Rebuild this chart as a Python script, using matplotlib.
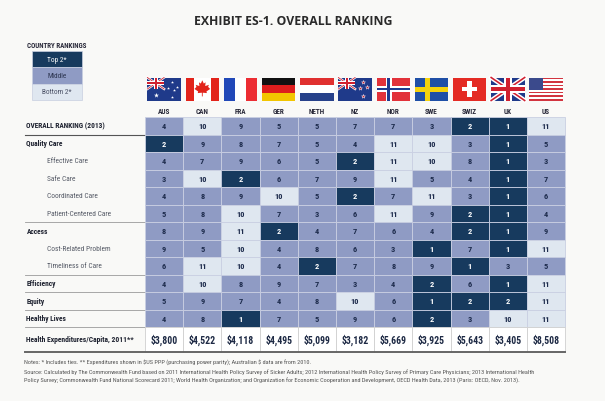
import matplotlib
matplotlib.use("Agg")
import matplotlib.pyplot as plt
from matplotlib.patches import Rectangle, Polygon
from matplotlib.lines import Line2D
import logging
logging.getLogger('matplotlib.font_manager').setLevel(logging.ERROR)

# ---------------- data ----------------
countries = ["AUS", "CAN", "FRA", "GER", "NETH", "NZ", "NOR", "SWE", "SWIZ", "UK", "US"]
row_labels = ["OVERALL RANKING (2013)", "Quality Care", "Effective Care", "Safe Care",
              "Coordinated Care", "Patient-Centered Care", "Access", "Cost-Related Problem",
              "Timeliness of Care", "Efficiency", "Equity", "Healthy Lives"]
row_is_sub = [False, False, True, True, True, True, False, True, True, False, False, False]

overall          = [4, 10, 9, 5, 5, 7, 7, 3, 2, 1, 11]
quality_care     = [2, 9, 8, 7, 5, 4, 11, 10, 3, 1, 5]
effective_care   = [4, 7, 9, 6, 5, 2, 11, 10, 8, 1, 3]
safe_care        = [3, 10, 2, 6, 7, 9, 11, 5, 4, 1, 7]
coordinated_care = [4, 8, 9, 10, 5, 2, 7, 11, 3, 1, 6]
patient_centered = [5, 8, 10, 7, 3, 6, 11, 9, 2, 1, 4]
access           = [8, 9, 11, 2, 4, 7, 6, 4, 2, 1, 9]
cost_related     = [9, 5, 10, 4, 8, 6, 3, 1, 7, 1, 11]
timeliness       = [6, 11, 10, 4, 2, 7, 8, 9, 1, 3, 5]
efficiency       = [4, 10, 8, 9, 7, 3, 4, 2, 6, 1, 11]
equity           = [5, 9, 7, 4, 8, 10, 6, 1, 2, 2, 11]
healthy_lives    = [4, 8, 1, 7, 5, 9, 6, 2, 3, 10, 11]
ranks = [overall, quality_care, effective_care, safe_care, coordinated_care, patient_centered,
         access, cost_related, timeliness, efficiency, equity, healthy_lives]
spending_label = "Health Expenditures/Capita, 2011**"
spending = ["$3,800", "$4,522", "$4,118", "$4,495", "$5,099", "$3,182", "$5,669",
            "$3,925", "$5,643", "$3,405", "$8,508"]
legend_labels = ["Top 2*", "Middle", "Bottom 2*"]
title = "EXHIBIT ES-1. OVERALL RANKING"
notes = [
    "Notes: * Includes ties. ** Expenditures shown in $US PPP (purchasing power parity); Australian $ data are from 2010.",
    "Source: Calculated by The Commonwealth Fund based on 2011 International Health Policy Survey of Sicker Adults; 2012 International Health Policy Survey of Primary Care Physicians; 2013 International Health",
    "Policy Survey; Commonwealth Fund National Scorecard 2011; World Health Organization; and Organization for Economic Cooperation and Development, OECD Health Data, 2013 (Paris: OECD, Nov. 2013).",
]

# ---------------- style ----------------
DARK = "#173a5e"
MID = "#8f9bc4"
LIGHT = "#dfe7f0"
BG = "#f9f9f7"
NARROW = ["Liberation Sans Narrow", "Roboto Condensed", "DejaVu Sans"]

def cell_color(r):
    if r <= 2:
        return DARK
    if r >= 10:
        return LIGHT
    return MID

def esc(s):
    return s.replace("$", r"\$")

fig = plt.figure(figsize=(6.05, 4.02), dpi=100, facecolor=BG)
ax = fig.add_axes([0, 0, 1, 1])
ax.set_xlim(0, 605)
ax.set_ylim(402, 0)
ax.axis("off")
ax.set_facecolor(BG)

X0, CW = 145.0, 38.2
Y0, RH = 118.0, 17.5
LX = 25.0
ncol = len(countries)
XR = X0 + ncol * CW

# title
ax.text(293.5, 21.5, title, ha="center", va="center", fontsize=8.8,
        fontweight="bold", family=["Open Sans", "DejaVu Sans"], color="#2a2a2a")

# legend
ax.text(27, 46, "COUNTRY RANKINGS", fontsize=5.0, fontweight="bold", family=NARROW,
        color="#2a2a3a", va="center", ha="left")
leg_cols = [DARK, MID, LIGHT]
leg_txt = ["white", "#2c3550", "#4a5065"]
for i, (lab, c, tc) in enumerate(zip(legend_labels, leg_cols, leg_txt)):
    y = 52 + i * 16.3
    ax.add_patch(Rectangle((32, y), 50, 16.3, facecolor=c, edgecolor="#c8cfe0", lw=0.5))
    ax.text(57, y + 8.2, lab, ha="center", va="center", fontsize=5.2, family=NARROW, color=tc)

# ---------------- flags ----------------
def clip_rect(x, y, w, h):
    r = Rectangle((x, y), w, h, transform=ax.transData, facecolor="none", edgecolor="none")
    ax.add_patch(r)
    return r

def px2pt(px):
    return px * 0.72

def union_jack(x, y, w, h):
    ax.add_patch(Rectangle((x, y), w, h, facecolor="#1f3a8a", edgecolor="none", zorder=3))
    cp = clip_rect(x, y, w, h)
    for (xa, ya, xb, yb) in [(x, y, x + w, y + h), (x, y + h, x + w, y)]:
        l1 = Line2D([xa, xb], [ya, yb], color="white", lw=px2pt(h * 0.2), zorder=4)
        l1.set_clip_path(cp); ax.add_line(l1)
        l2 = Line2D([xa, xb], [ya, yb], color="#d0202f", lw=px2pt(h * 0.07), zorder=4)
        l2.set_clip_path(cp); ax.add_line(l2)
    ax.add_patch(Rectangle((x + w / 2 - h * 0.17, y), h * 0.34, h, facecolor="white", edgecolor="none", zorder=5))
    ax.add_patch(Rectangle((x, y + h * 0.33), w, h * 0.34, facecolor="white", edgecolor="none", zorder=5))
    ax.add_patch(Rectangle((x + w / 2 - h * 0.1, y), h * 0.2, h, facecolor="#d0202f", edgecolor="none", zorder=6))
    ax.add_patch(Rectangle((x, y + h * 0.4), w, h * 0.2, facecolor="#d0202f", edgecolor="none", zorder=6))

def flag(code, x, y, w, h):
    z = 3
    if code == "AUS" or code == "NZ":
        ax.add_patch(Rectangle((x, y), w, h, facecolor="#1f3a8a", edgecolor="none", zorder=z))
        union_jack(x, y, w / 2, h / 2)
        if code == "AUS":
            ax.scatter([x + w * 0.25], [y + h * 0.76], s=14, marker="*", color="white", zorder=7, lw=0)
            ax.scatter([x + w * 0.75, x + w * 0.62, x + w * 0.88, x + w * 0.75, x + w * 0.8],
                       [y + h * 0.2, y + h * 0.45, y + h * 0.4, y + h * 0.85, y + h * 0.55],
                       s=5, marker="*", color="white", zorder=7, lw=0)
        else:
            ax.scatter([x + w * 0.75, x + w * 0.64, x + w * 0.86, x + w * 0.75],
                       [y + h * 0.2, y + h * 0.45, y + h * 0.4, y + h * 0.8],
                       s=9, marker="*", color="#d0202f", edgecolors="white", lw=0.3, zorder=7)
    elif code == "CAN":
        ax.add_patch(Rectangle((x, y), w, h, facecolor="white", edgecolor="none", zorder=z))
        ax.add_patch(Rectangle((x, y), w / 4, h, facecolor="#e2231a", edgecolor="none", zorder=z))
        ax.add_patch(Rectangle((x + 3 * w / 4, y), w / 4, h, facecolor="#e2231a", edgecolor="none", zorder=z))
        cx, cy, s = x + w / 2, y + h * 0.48, h * 0.36
        leaf = [(0, -1), (0.18, -0.6), (0.4, -0.75), (0.35, -0.3), (0.8, -0.45), (0.7, -0.2),
                (0.95, 0.05), (0.5, 0.35), (0.55, 0.55), (0.05, 0.5), (0.05, 0.95), (-0.05, 0.95),
                (-0.05, 0.5), (-0.55, 0.55), (-0.5, 0.35), (-0.95, 0.05), (-0.7, -0.2), (-0.8, -0.45),
                (-0.35, -0.3), (-0.4, -0.75), (-0.18, -0.6)]
        ax.add_patch(Polygon([(cx + px * s, cy + py * s) for px, py in leaf], closed=True,
                             facecolor="#e2231a", edgecolor="none", zorder=z + 1))
    elif code == "FRA":
        for i, c in enumerate(["#2148b8", "white", "#ec2d33"]):
            ax.add_patch(Rectangle((x + i * w / 3, y), w / 3, h, facecolor=c, edgecolor="none", zorder=z))
    elif code == "GER":
        for i, c in enumerate(["#111111", "#dd1d1d", "#f2c500"]):
            ax.add_patch(Rectangle((x, y + i * h / 3), w, h / 3, facecolor=c, edgecolor="none", zorder=z))
    elif code == "NETH":
        for i, c in enumerate(["#e0302f", "white", "#27418a"]):
            ax.add_patch(Rectangle((x, y + i * h / 3), w, h / 3, facecolor=c, edgecolor="none", zorder=z))
    elif code == "NOR":
        ax.add_patch(Rectangle((x, y), w, h, facecolor="#e2323a", edgecolor="none", zorder=z))
        ax.add_patch(Rectangle((x + w * 6 / 22, y), w * 4 / 22, h, facecolor="white", edgecolor="none", zorder=z))
        ax.add_patch(Rectangle((x, y + h * 6 / 16), w, h * 4 / 16, facecolor="white", edgecolor="none", zorder=z))
        ax.add_patch(Rectangle((x + w * 7 / 22, y), w * 2 / 22, h, facecolor="#1e3a8f", edgecolor="none", zorder=z))
        ax.add_patch(Rectangle((x, y + h * 7 / 16), w, h * 2 / 16, facecolor="#1e3a8f", edgecolor="none", zorder=z))
    elif code == "SWE":
        ax.add_patch(Rectangle((x, y), w, h, facecolor="#1f4fa6", edgecolor="none", zorder=z))
        ax.add_patch(Rectangle((x + w * 5 / 16, y), w * 2.2 / 16, h, facecolor="#f5d20c", edgecolor="none", zorder=z))
        ax.add_patch(Rectangle((x, y + h * 4 / 10), w, h * 2.2 / 10, facecolor="#f5d20c", edgecolor="none", zorder=z))
    elif code == "SWIZ":
        ax.add_patch(Rectangle((x, y), w, h, facecolor="#e42b24", edgecolor="none", zorder=z))
        cx, cy, a, b = x + w / 2, y + h / 2, h * 0.33, h * 0.1
        ax.add_patch(Rectangle((cx - b, cy - a), 2 * b, 2 * a, facecolor="white", edgecolor="none", zorder=z + 1))
        ax.add_patch(Rectangle((cx - a, cy - b), 2 * a, 2 * b, facecolor="white", edgecolor="none", zorder=z + 1))
    elif code == "UK":
        union_jack(x, y, w, h)
    elif code == "US":
        for i in range(13):
            c = "#d2343f" if i % 2 == 0 else "white"
            ax.add_patch(Rectangle((x, y + i * h / 13), w, h / 13, facecolor=c, edgecolor="none", zorder=z))
        ax.add_patch(Rectangle((x, y), w * 0.4, h * 7 / 13, facecolor="#3b4a8c", edgecolor="none", zorder=z + 1))

FW, FH = 33.5, 23.0
for j, code in enumerate(countries):
    cx = X0 + (j + 0.5) * CW
    flag(code, cx - FW / 2, 78.5, FW, FH)
    ax.text(cx, 112, code, ha="center", va="center", fontsize=5.2, fontweight="bold",
            family=NARROW, color="#2a2a3a")

# ---------------- table ----------------
for i, (lab, sub, vals) in enumerate(zip(row_labels, row_is_sub, ranks)):
    y = Y0 + i * RH
    for j, r in enumerate(vals):
        c = cell_color(r)
        ax.add_patch(Rectangle((X0 + j * CW, y), CW, RH, facecolor=c,
                               edgecolor="#c9cfe2", lw=0.6, zorder=2))
        ax.text(X0 + (j + 0.5) * CW, y + RH / 2, str(r), ha="center", va="center",
                fontsize=6.0, fontweight="bold", family=NARROW,
                color="white" if r <= 2 else "#1d2b4c", zorder=3)
    if sub:
        ax.text(47, y + RH / 2, lab, ha="left", va="center", fontsize=5.3,
                family=NARROW, color="#555a66")
    else:
        ax.text(LX + 1.5, y + RH / 2, lab, ha="left", va="center", fontsize=5.3,
                fontweight="bold", family=NARROW, color="#1e2230")

# separator lines in label area
sep_rows = [1, 6, 9, 10, 11, 12]
for k in sep_rows:
    y = Y0 + k * RH
    ax.plot([LX, X0], [y, y], color="#555555" if k == 1 else "#9a9a9a",
            lw=0.8 if k == 1 else 0.6, zorder=1)

# spending row
ys = Y0 + len(ranks) * RH
SH = 25.0
ax.text(LX + 1.5, ys + SH / 2, spending_label, ha="left", va="center", fontsize=5.4,
        fontweight="bold", family=NARROW, color="#1e2230")
for j, v in enumerate(spending):
    ax.add_patch(Rectangle((X0 + j * CW, ys), CW, SH, facecolor="white",
                           edgecolor="#cfcfcf", lw=0.6, zorder=2))
    ax.text(X0 + (j + 0.5) * CW, ys + SH / 2, esc(v), ha="center", va="center",
            fontsize=7, fontweight="bold", family=NARROW, color="#1e2a45", zorder=3)
ax.plot([LX, XR], [ys + SH, ys + SH], color="#666666", lw=1.4, zorder=4)

# notes
for k, line in enumerate(notes):
    ax.text(LX - 1, 363 + k * 9.2, esc(line), ha="left", va="center", fontsize=4.5,
            family=NARROW, color="#555555")

fig.savefig("out.png", dpi=100, facecolor=BG)
